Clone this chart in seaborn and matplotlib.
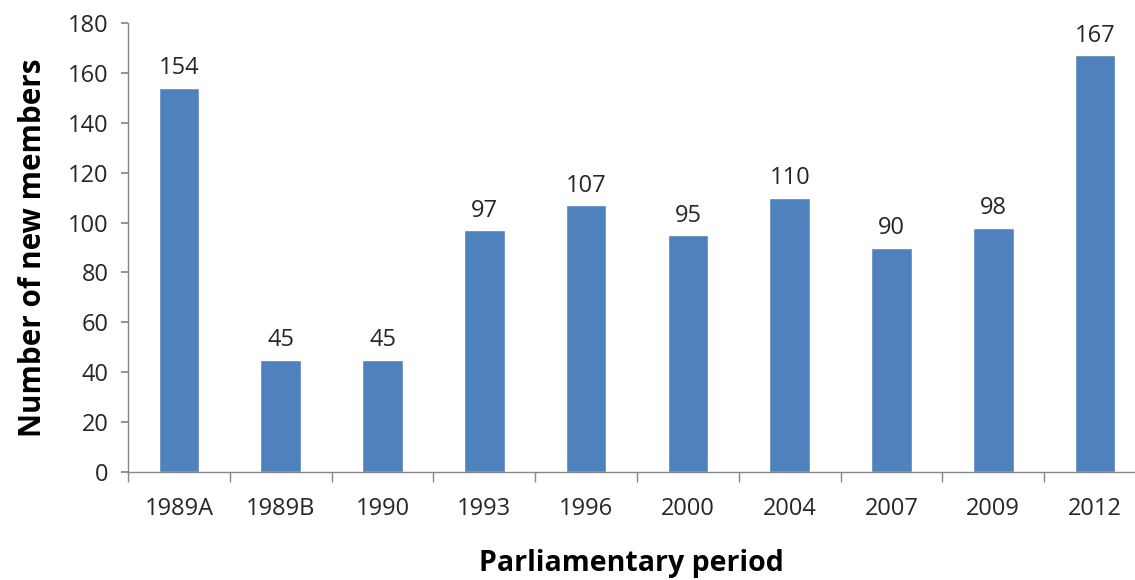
import matplotlib
matplotlib.use("Agg")
import matplotlib.pyplot as plt
import seaborn as sns
import pandas as pd
import numpy as np

periods = ["1989A", "1989B", "1990", "1993", "1996", "2000", "2004", "2007", "2009", "2012"]
new_members = [154, 45, 45, 97, 107, 95, 110, 90, 98, 167]

sns.set_theme(style="white")
plt.rcParams['font.family'] = ['Open Sans', 'DejaVu Sans']

df = pd.DataFrame({"period": periods, "members": new_members})

fig = plt.figure(figsize=(11.35, 5.8), dpi=100)
ax = fig.add_axes([128/1135, (580-472)/580, (1135-128)/1135, (472-23)/580])

sns.barplot(data=df, x="period", y="members", color="#4F81BD", saturation=1,
            width=0.4, ax=ax)

for i, v in enumerate(new_members):
    ax.text(i, v + 3, str(v), ha="center", va="bottom", fontsize=17, color="#262626")

ax.set_yticks(np.arange(0, 181, 20))
ax.tick_params(axis="y", which="both", left=True, length=5, color="#868686",
               labelsize=17, labelcolor="#262626", pad=9)
ax.tick_params(axis="x", which="major", bottom=False, labelsize=17,
               labelcolor="#262626", pad=12)
ax.set_xticks(np.arange(-0.5, 9.6, 1), minor=True)
ax.tick_params(axis="x", which="minor", bottom=True, length=7, color="#868686")
ax.set_ylim(0, 180)
ax.set_xlim(-0.5, -0.5 + (1135-128)/101.8)

for s in ["top", "right"]:
    ax.spines[s].set_visible(False)
for s in ["left", "bottom"]:
    ax.spines[s].set_color("#868686")
    ax.spines[s].set_linewidth(1)

ax.set_xlabel("Parliamentary period", fontsize=20.5, fontweight="bold", color="black", labelpad=20)
ax.set_ylabel("Number of new members", fontsize=21.3, fontweight="bold", color="black", labelpad=14)

fig.savefig("out.png", dpi=100)
